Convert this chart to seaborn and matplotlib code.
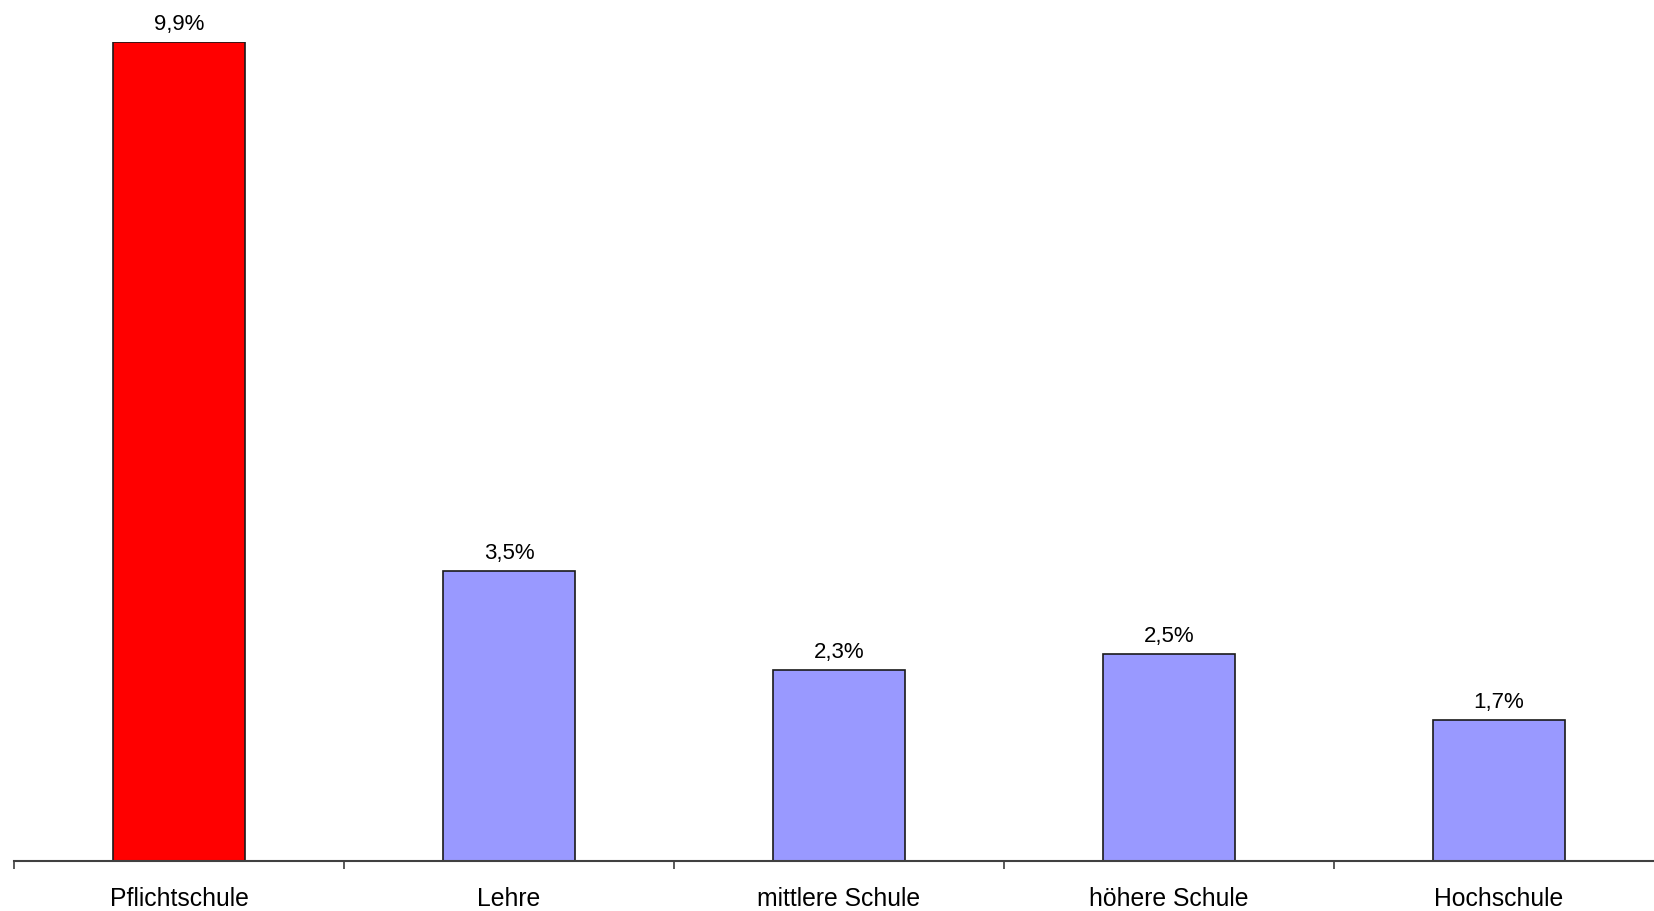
import matplotlib
matplotlib.use("Agg")
import matplotlib.pyplot as plt
import seaborn as sns
import pandas as pd
from matplotlib.ticker import FixedLocator, NullFormatter

categories = ["Pflichtschule", "Lehre", "mittlere Schule", "höhere Schule", "Hochschule"]
values = [9.9, 3.5, 2.3, 2.5, 1.7]
bar_colors = ["#FF0000", "#9999FF", "#9999FF", "#9999FF", "#9999FF"]

sns.set_theme(style="white")
plt.rcParams["font.family"] = ["Liberation Sans", "DejaVu Sans"]

df = pd.DataFrame({"Bildung": categories, "Anteil": values})

W, H, DPI = 1654, 911, 100
fig = plt.figure(figsize=(W / DPI, H / DPI), dpi=DPI)
ax = fig.add_axes([14 / W, 50.3 / H, 1650 / W, 819 / H])

sns.barplot(data=df, x="Bildung", y="Anteil", hue="Bildung", palette=bar_colors,
            legend=False, width=0.4, edgecolor="#1a1a1a", linewidth=1.2,
            saturation=1, ax=ax)

ax.set_xlim(-0.5, len(categories) - 0.5)
ax.set_ylim(0, max(values))
ax.set_xlabel("")
ax.set_ylabel("")
ax.set_yticks([])

for side in ("top", "right", "left"):
    ax.spines[side].set_visible(False)
ax.spines["bottom"].set_color("#404040")
ax.spines["bottom"].set_linewidth(1.5)

# boundary ticks between categories, labels centred under bars
ax.xaxis.set_major_locator(FixedLocator([i - 0.5 for i in range(len(categories) + 1)]))
ax.xaxis.set_major_formatter(NullFormatter())
ax.xaxis.set_minor_locator(FixedLocator(list(range(len(categories)))))
ax.set_xticklabels(categories, minor=True)
ax.tick_params(axis="x", which="major", bottom=True, length=6, width=1.2,
               color="#404040", direction="out")
ax.tick_params(axis="x", which="minor", bottom=True, length=0, pad=19,
               labelsize=17.8, labelcolor="black")

for i, v in enumerate(values):
    ax.annotate(f"{v:.1f}%".replace(".", ","), xy=(i, v), xytext=(0, 5),
                textcoords="offset points", ha="center", va="bottom",
                fontsize=16, color="black", annotation_clip=False)

fig.savefig("out.png", dpi=DPI, facecolor="white")
